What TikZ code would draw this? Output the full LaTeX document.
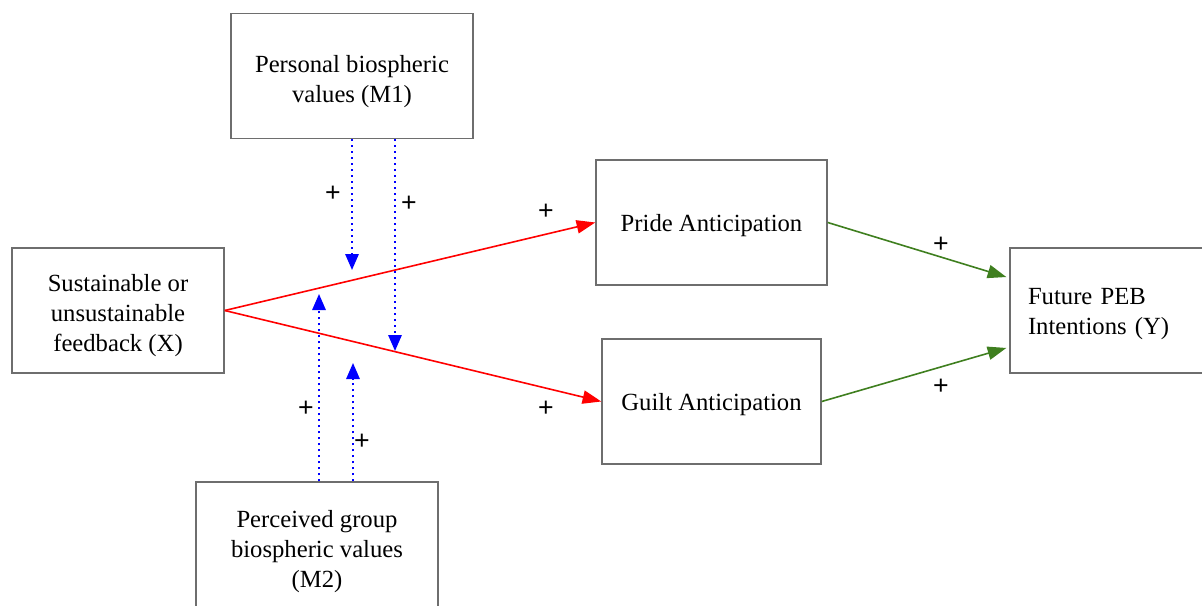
\documentclass[tikz,border=0pt]{standalone}
\usepackage{fontspec}
\setmainfont{Liberation Serif}
\newfontfamily\plusfont{Liberation Sans}
\usetikzlibrary{arrows.meta}
\definecolor{boxgray}{HTML}{6E6E6E}
\definecolor{redarr}{HTML}{FF0000}
\definecolor{greenarr}{HTML}{3F7F1F}
\definecolor{bluearr}{HTML}{0000FF}
\newcommand{\toplift}{\rule{0pt}{20.5pt}}
\begin{document}
\begin{tikzpicture}[x=0.75pt,y=-0.75pt,
  basebox/.style={draw=boxgray,line width=1.1pt,fill=white,rectangle,align=center,
    font=\fontsize{18.5}{22.5}\selectfont,inner sep=0pt},
  varbox/.style={basebox,execute at begin node={\rule{0pt}{17.5pt}}},
  multibox/.style={basebox},
  redline/.style={draw=redarr,line width=1.2pt,-{Triangle[length=14pt,width=10pt]}},
  greenline/.style={draw=greenarr,line width=1.2pt,-{Triangle[length=14pt,width=10pt]}},
  blueline/.style={draw=bluearr,line width=1.5pt,dash pattern=on 1.5pt off 3pt,
    -{Triangle[length=12pt,width=10pt]}},
  pluslabel/.style={font=\plusfont\fontsize{20}{20}\selectfont,inner sep=0pt}]
\useasboundingbox (0,0) rectangle (1202,606);
\clip (0,0) rectangle (1202,606);
% boxes
\node[multibox,minimum width=181.5pt,minimum height=93.75pt] (M1) at (352,76) {\toplift Personal biospheric\\values (M1)};
\node[varbox,minimum width=173.25pt,minimum height=93.75pt] (P) at (711.5,222.5) {Pride Anticipation};
\node[multibox,minimum width=159pt,minimum height=93.75pt] (X) at (118,310.5) {\toplift Sustainable or\\unsustainable\\feedback (X)};
\node[varbox,minimum height=93.75pt,text width=123pt,inner xsep=13.5pt,align=left] (Y) at (1110,310.5) {Future PEB\\Intentions (Y)};
\node[varbox,minimum width=164.25pt,minimum height=93.75pt] (G) at (711.5,401.5) {Guilt Anticipation};
\node[multibox,minimum width=181.5pt,minimum height=96pt] (M2) at (317,546) {\toplift Perceived group\\biospheric values\\(M2)};
% free ends of moderator arrows
\coordinate (d1) at (352,270);
\coordinate (d2) at (395,351);
\coordinate (u1) at (319,294);
\coordinate (u2) at (353,363);
% red
\draw[redline] (X.east) -- (P.west);
\draw[redline] (X.east) -- (G.west);
% green
\draw[greenline] (P.east) -- ([xshift=-2.2pt,yshift=25.1pt]Y.west);
\draw[greenline] (G.east) -- ([xshift=-2.2pt,yshift=-28.1pt]Y.west);
% blue dotted
\draw[blueline] (M1.south -| d1) -- (d1);
\draw[blueline] (M1.south -| d2) -- (d2);
\draw[blueline] (M2.north -| u1) -- (u1);
\draw[blueline] (M2.north -| u2) -- (u2);
% labels
\node[pluslabel] (l1) at (333,194) {+};
\node[pluslabel] (l2) at (409,204) {+};
\node[pluslabel] (l3) at (546,212) {+};
\node[pluslabel] (l4) at (306,409) {+};
\node[pluslabel] (l5) at (362,442) {+};
\node[pluslabel] (l6) at (546,409) {+};
\node[pluslabel] (l7) at (941,245) {+};
\node[pluslabel] (l8) at (941,387) {+};
\end{tikzpicture}
\end{document}
